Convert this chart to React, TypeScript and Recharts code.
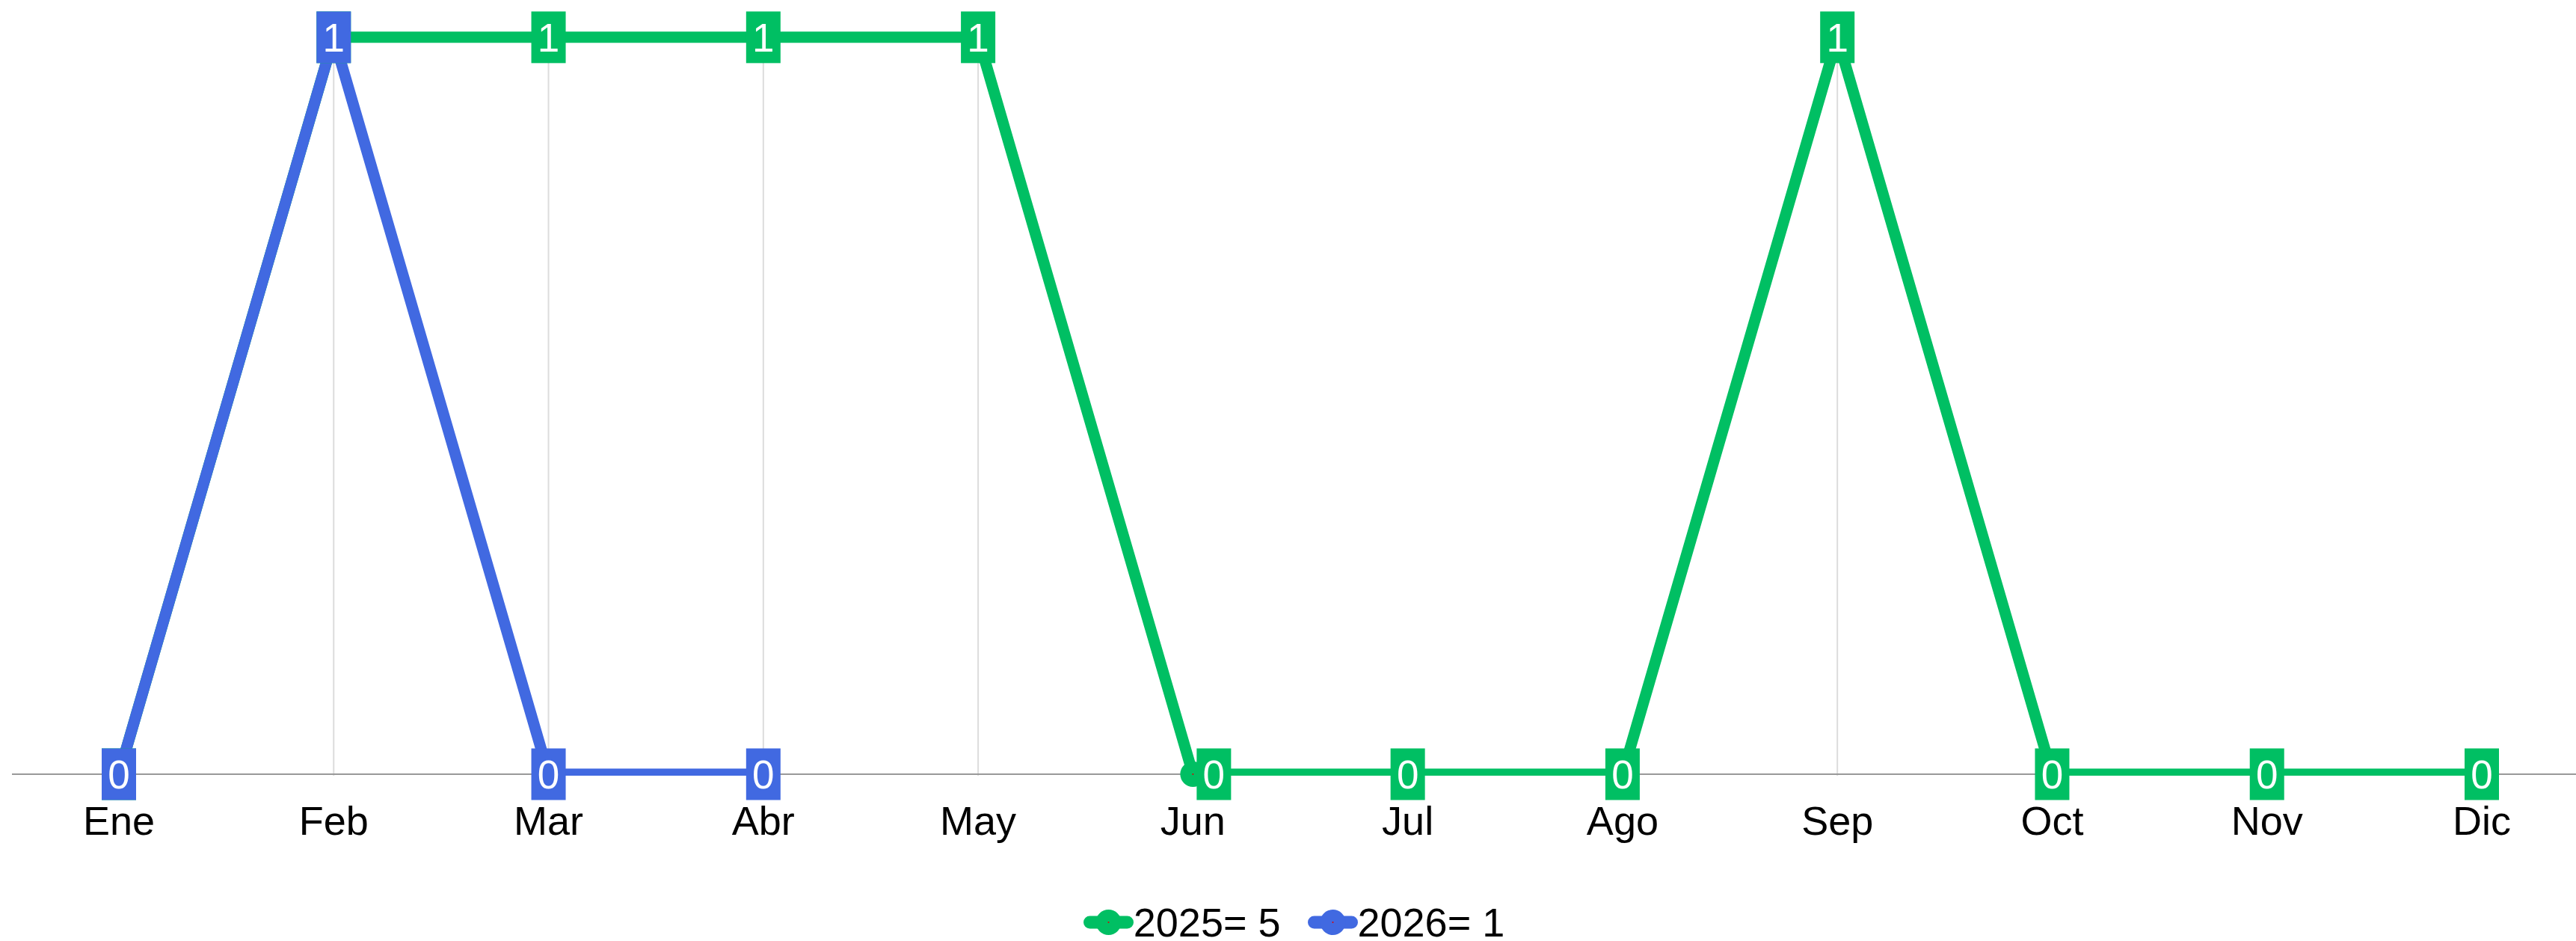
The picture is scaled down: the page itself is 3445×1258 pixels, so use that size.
import { Legend, Line, LineChart, XAxis, YAxis, LabelList, ReferenceLine } from "recharts";

const months = ["Ene", "Feb", "Mar", "Abr", "May", "Jun", "Jul", "Ago", "Sep", "Oct", "Nov", "Dic"];
const values2025: (number | null)[] = [0, 1, 1, 1, 1, 0, 0, 0, 1, 0, 0, 0];
const values2026: (number | null)[] = [0, 1, 0, 0, null, null, null, null, null, null, null, null];

const GREEN = "#00bf63";
const BLUE = "#4169e1";
const FONT = "'Liberation Sans', Arial, sans-serif";

// the Jun label of 2025 sits to the right of its point in the original
const NUDGE = { key: "y2025", month: "Jun", dx: 28 };

const sum = (arr: (number | null)[]) => arr.reduce<number>((a, v) => a + (v ?? 0), 0);

const series = [
  { key: "y2025", name: `2025= ${sum(values2025)}`, color: GREEN },
  { key: "y2026", name: `2026= ${sum(values2026)}`, color: BLUE },
];

const data = months.map((m, i) => ({ month: m, y2025: values2025[i], y2026: values2026[i] }));

const peakMonths = months.filter((_, i) => Math.max(values2025[i] ?? 0, values2026[i] ?? 0) === 1);

// point marker + value box; drawn in the label layer so the marker is not clipped
function makeLabel(key: string, color: string) {
  return (props: any) => {
    const { x, y, value, index } = props;
    if (value == null || x == null || y == null) return null;
    const dx = key === NUDGE.key && months[index] === NUDGE.month ? NUDGE.dx : 0;
    const cx = x + dx;
    return (
      <g>
        <circle cx={x} cy={y} r={17} fill={color} />
        <circle cx={x} cy={y} r={1} fill="#e00000" />
        <rect x={cx - 23} y={y - 34.5} width={46} height={69} fill={color} />
        <text
          x={cx}
          y={y}
          dy="0.36em"
          textAnchor="middle"
          fill="#fff"
          fontSize={53}
          fontFamily={FONT}
        >
          {value}
        </text>
      </g>
    );
  };
}

function LegendContent() {
  return (
    <div
      style={{
        height: 80,
        paddingTop: 30,
        boxSizing: "border-box",
        display: "flex",
        justifyContent: "center",
        alignItems: "center",
        gap: 36,
        fontFamily: FONT,
      }}
    >
      {series.map((s) => (
        <div key={s.key} style={{ display: "flex", alignItems: "center", height: 50 }}>
          <svg width={67} height={36}>
            <line x1={8.5} y1={18} x2={58.5} y2={18} stroke={s.color} strokeWidth={17} strokeLinecap="round" />
            <circle cx={33.5} cy={18} r={17} fill={s.color} />
            <circle cx={33.5} cy={18} r={1} fill="#e00000" />
          </svg>
          <span style={{ fontSize: 54, lineHeight: 1, color: "#000" }}>{s.name}</span>
        </div>
      ))}
    </div>
  );
}

export default function App() {
  return (
    <div style={{ position: "absolute", left: 0, top: 0, width: 3445, height: 1258, background: "#fff" }}>
      <LineChart width={3445} height={1258} data={data} margin={{ top: 40, right: 0, bottom: 0, left: 16 }}>
        <XAxis
          dataKey="month"
          padding={{ left: 143, right: 126 }}
          height={141}
          tickLine={false}
          tickSize={0}
          tickMargin={41}
          axisLine={false}
          tick={{ fontSize: 54, fill: "#000", fontFamily: FONT }}
          interval={0}
        />
        <YAxis hide domain={[-0.002, 1.01]} allowDataOverflow />
        {peakMonths.map((m) => (
          <ReferenceLine key={m} x={m} stroke="#dcdcdc" strokeWidth={2} />
        ))}
        <ReferenceLine y={0} stroke="#999" strokeWidth={2} />
        <Legend verticalAlign="bottom" content={<LegendContent />} />
        {series.map((s) => (
          <Line
            key={s.key}
            dataKey={s.key}
            name={s.name}
            type="linear"
            stroke={s.color}
            strokeWidth={15}
            dot={false}
            activeDot={false}
            isAnimationActive={false}
          >
            <LabelList dataKey={s.key} content={makeLabel(s.key, s.color)} />
          </Line>
        ))}
      </LineChart>
    </div>
  );
}
